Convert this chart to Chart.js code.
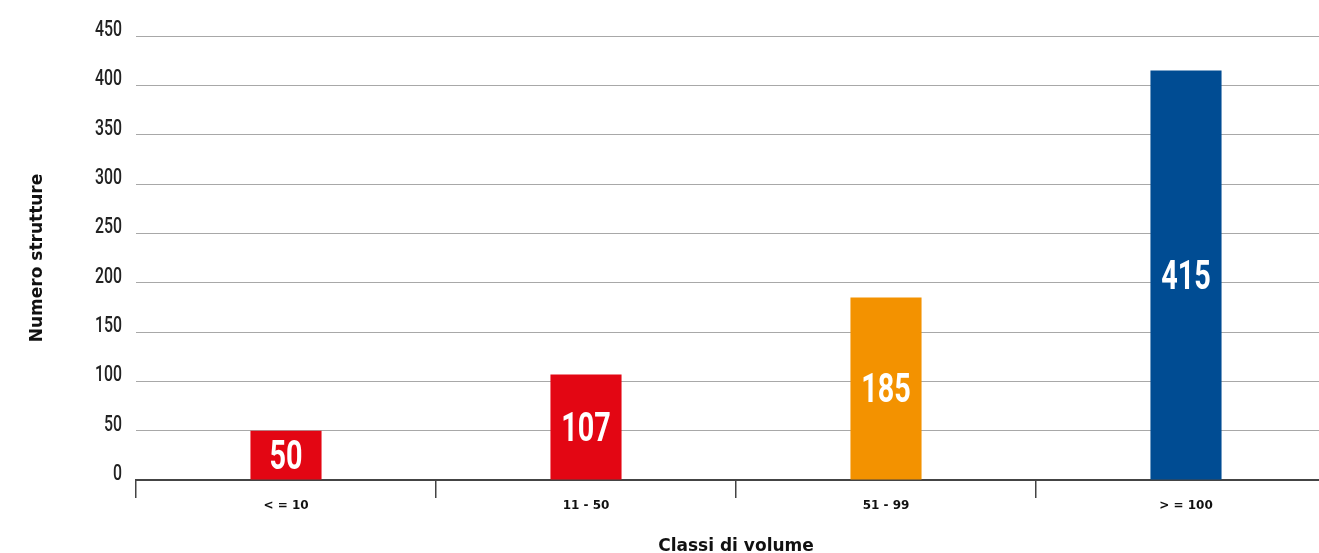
<!DOCTYPE html>
<html><head><meta charset="utf-8">
<script src="https://cdn.jsdelivr.net/npm/chart.js@4/dist/chart.umd.min.js"></script>
<style>
html,body{margin:0;padding:0;background:#fff;overflow:hidden;width:1319px;height:553px;}
#wrap{position:relative;width:1340px;height:553px;}
</style></head>
<body>
<div id="wrap"><canvas id="c" width="1340" height="553"></canvas></div>
<script>
const categories = ['< = 10', '11 - 50', '51 - 99', '> = 100'];
const values = [50, 107, 185, 415];
const barColors = ['#E30613', '#E30613', '#F39200', '#004C93'];
const yTicks = [0, 50, 100, 150, 200, 250, 300, 350, 400, 450];

const NARROW = 0.72;

const narrowText = {
  id: 'narrowText',
  afterDatasetsDraw(chart) {
    const ctx = chart.ctx;
    const meta = chart.getDatasetMeta(0);
    ctx.save();
    ctx.fillStyle = '#ffffff';
    ctx.font = 'bold 40px Roboto, "DejaVu Sans", sans-serif';
    ctx.textAlign = 'center';
    ctx.textBaseline = 'middle';
    meta.data.forEach((bar, i) => {
      const mid = (bar.y + bar.base) / 2;
      ctx.save();
      ctx.translate(bar.x, mid + 4);
      ctx.scale(NARROW, 1);
      ctx.fillText(String(values[i]), 0, 0);
      ctx.restore();
    });
    ctx.restore();
  },
  afterDraw(chart) {
    const ctx = chart.ctx;
    const ys = chart.scales.y;
    ctx.save();
    ctx.fillStyle = '#222';
    ctx.font = '500 22px Roboto, "DejaVu Sans", sans-serif';
    ctx.textAlign = 'right';
    ctx.textBaseline = 'alphabetic';
    ys.ticks.forEach(t => {
      const py = ys.getPixelForValue(t.value);
      ctx.save();
      ctx.translate(122, py);
      ctx.scale(NARROW, 1);
      ctx.fillText(String(t.value), 0, 0);
      ctx.restore();
    });
    ctx.restore();
  }
};

new Chart(document.getElementById('c'), {
  type: 'bar',
  data: {
    labels: categories,
    datasets: [{ data: values, backgroundColor: barColors, borderWidth: 0,
      categoryPercentage: 1, barPercentage: 0.237 }]
  },
  options: {
    responsive: false,
    animation: false,
    devicePixelRatio: 1,
    layout: { padding: { top: 36, right: 4, left: 0, bottom: 0 } },
    plugins: { legend: { display: false }, tooltip: { enabled: false } },
    scales: {
      x: {
        offset: true,
        grid: { offset: true, drawOnChartArea: false, drawTicks: true, tickLength: 18, color: '#444', lineWidth: 1.5 },
        border: { display: true, color: '#444', width: 2 },
        ticks: { color: '#111', font: { family: '"DejaVu Sans", sans-serif', weight: 'bold', size: 12 }, padding: 1 },
        title: { display: true, text: 'Classi di volume', color: '#111',
          font: { family: '"DejaVu Sans", sans-serif', weight: 'bold', size: 17 }, padding: { top: 0, bottom: -4 } },
        afterFit(s) { s.height = 73; }
      },
      y: {
        min: 0, max: 450,
        afterBuildTicks(s) { s.ticks = yTicks.map(v => ({ value: v })); },
        grid: { drawTicks: false, color: '#a8a8a8', lineWidth: 1 },
        border: { display: false },
        ticks: { display: false },
        title: { display: true, text: 'Numero strutture', color: '#111',
          font: { family: '"DejaVu Sans", sans-serif', weight: 'bold', size: 17 }, padding: { top: 27, bottom: 0 } },
        afterFit(s) { s.width = 136; }
      }
    }
  },
  plugins: [narrowText]
});
</script>
</body></html>
